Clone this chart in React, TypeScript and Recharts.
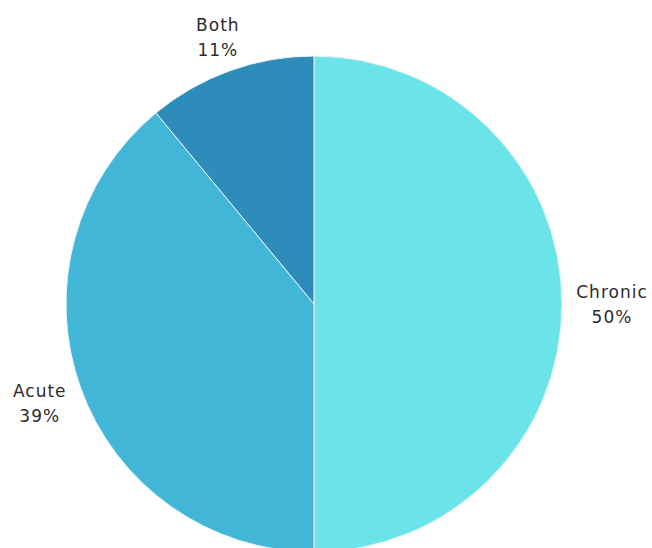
import React from "react";
import { PieChart, Pie, Cell } from "recharts";

const categories = ["Chronic", "Acute", "Both"];
const values = [50, 39, 11];
const colors = ["#6ae4e9", "#42b6d6", "#2e8cba"];

const data = categories.map((name, i) => ({ name, value: values[i] }));

const RAD = Math.PI / 180;

const renderLabel = (props: any) => {
  const { cx, cy, midAngle, outerRadius, name, value } = props;
  const c = Math.cos(-midAngle * RAD);
  const s = Math.sin(-midAngle * RAD);
  const hw = String(name).length * 5.5;
  const hh = 18;
  const r = outerRadius + 11.5 + Math.abs(c) * hw + Math.abs(s) * hh;
  const x = cx + r * c;
  const y = cy + r * s;
  return (
    <text
      x={x}
      y={y}
      textAnchor="middle"
      fill="#2b2b2b"
      fontFamily="'DejaVu Sans', sans-serif"
      fontSize={17}
      letterSpacing={1}
    >
      <tspan x={x} dy={-6}>{name}</tspan>
      <tspan x={x} dy={25}>{`${value}%`}</tspan>
    </text>
  );
};

export default function App() {
  return (
    <div style={{ position: "absolute", left: 0, top: 0, width: 652, height: 548, background: "#fff" }}>
      <PieChart width={652} height={548} margin={{ top: 0, right: 0, bottom: 0, left: 0 }}>
        <Pie
          data={data}
          dataKey="value"
          nameKey="name"
          cx={314}
          cy={304}
          outerRadius={248}
          startAngle={90}
          endAngle={-270}
          stroke="#e8f6fa"
          strokeWidth={1}
          label={renderLabel}
          labelLine={false}
          isAnimationActive={false}
        >
          {data.map((d, i) => (
            <Cell key={d.name} fill={colors[i]} />
          ))}
        </Pie>
      </PieChart>
    </div>
  );
}
